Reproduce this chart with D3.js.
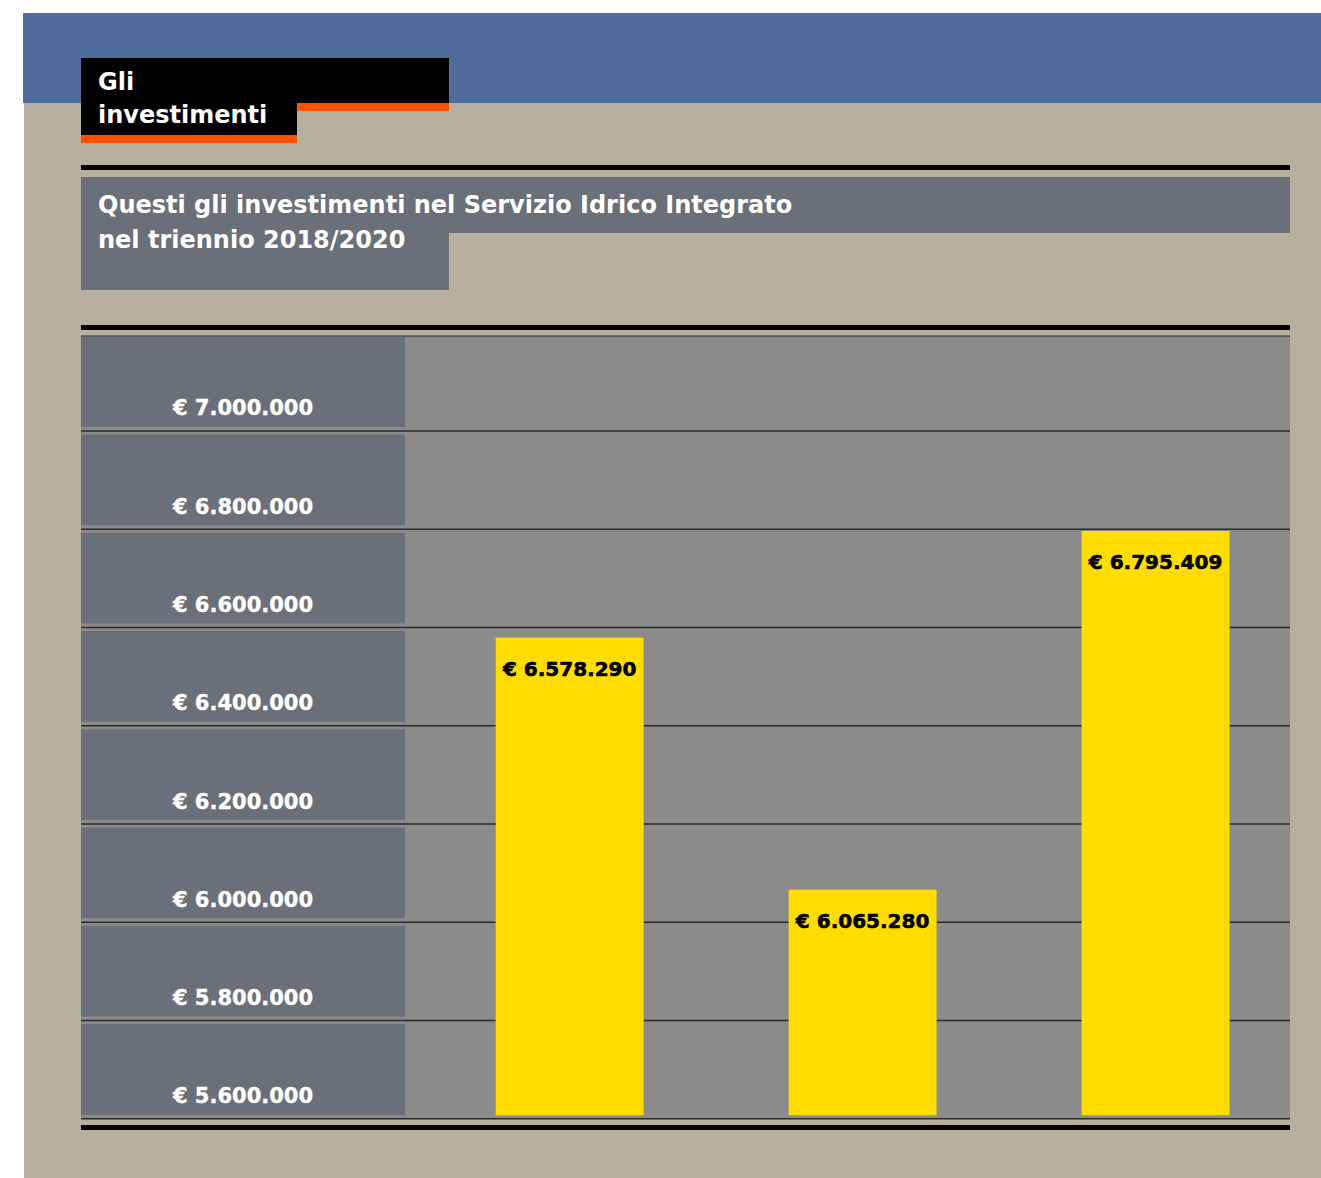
<!DOCTYPE html>
<html>
<head>
<meta charset="utf-8">
<script src="https://cdn.jsdelivr.net/npm/d3@7"></script>
<style>
  html, body { margin: 0; padding: 0; background: #ffffff; }
  svg { display: block; }
</style>
</head>
<body>
<svg id="chart" width="1321" height="1178"></svg>
<script>
// Annual investments in the integrated water service, 2018–2020
const years = ['2018', '2019', '2020'];
const investments = [6578290, 6065280, 6795409];
const tickValues = [5600000, 5800000, 6000000, 6200000, 6400000, 6600000, 6800000, 7000000];
const yDomain = [5600000, 7200000];
const titleLines = ['Gli', 'investimenti'];
const subtitleLines = ['Questi gli investimenti nel Servizio Idrico Integrato', 'nel triennio 2018/2020'];

const W = 1321, H = 1178;
const C = {
  blue: '#4f6c9d',
  beige: '#b7b09f',
  slate: '#6a707a',
  plot: '#8b8b89',
  grid: '#2b2b2b',
  yellow: '#ffdd00',
  orange: '#ff5200',
  black: '#000000',
  white: '#ffffff'
};
const L = 81, R = 1290, AXIS_R = 405, PLOT_TOP = 336;
const HEAD_FONT = '"DejaVu Sans", "Liberation Sans", sans-serif';

const it = d3.formatLocale({ decimal: ',', thousands: '.', grouping: [3], currency: ['€ ', ''] });
const euro = it.format('$,.0f');

const svg = d3.select('#chart');

// background panels
svg.append('rect').attr('x', 23).attr('y', 13).attr('width', W - 23).attr('height', 90).attr('fill', C.blue);
svg.append('rect').attr('x', 24).attr('y', 103).attr('width', W - 24).attr('height', H - 103).attr('fill', C.beige);

// title block
svg.append('rect').attr('x', L).attr('y', 58).attr('width', 368).attr('height', 45).attr('fill', C.black);
svg.append('rect').attr('x', L).attr('y', 103).attr('width', 216).attr('height', 32).attr('fill', C.black);
svg.append('rect').attr('x', L).attr('y', 135).attr('width', 216).attr('height', 8).attr('fill', C.orange);
svg.append('rect').attr('x', 297).attr('y', 103).attr('width', 152).attr('height', 8).attr('fill', C.orange);
svg.append('g').selectAll('text').data(titleLines).join('text')
  .attr('x', 98).attr('y', (d, i) => 90 + i * 33)
  .attr('fill', C.white)
  .attr('font-family', HEAD_FONT)
  .attr('font-weight', 'bold').attr('font-size', 24)
  .text(d => d);

// subtitle block
svg.append('rect').attr('x', L).attr('y', 165).attr('width', R - L).attr('height', 5).attr('fill', C.black);
svg.append('rect').attr('x', L).attr('y', 177).attr('width', R - L).attr('height', 56).attr('fill', C.slate);
svg.append('rect').attr('x', L).attr('y', 233).attr('width', 368).attr('height', 57).attr('fill', C.slate);
svg.append('g').selectAll('text').data(subtitleLines).join('text')
  .attr('x', 98).attr('y', (d, i) => 213 + i * 35)
  .attr('fill', C.white)
  .attr('font-family', HEAD_FONT)
  .attr('font-weight', 'bold').attr('font-size', 24)
  .text(d => d);

// chart frame
svg.append('rect').attr('x', L).attr('y', 325).attr('width', R - L).attr('height', 5).attr('fill', C.black);

const y = d3.scaleLinear().domain(yDomain).range([1118.3, 332.2]);
const x = d3.scaleBand().domain(years).range([AXIS_R, R])
  .paddingInner(0.495).paddingOuter(0.258).align(0.6);

const plotBottom = y(yDomain[0]);
svg.append('rect').attr('x', L).attr('y', PLOT_TOP).attr('width', R - L)
  .attr('height', plotBottom - PLOT_TOP).attr('fill', C.plot);
svg.append('line').attr('x1', L).attr('x2', R).attr('y1', PLOT_TOP).attr('y2', PLOT_TOP)
  .attr('stroke', C.grid).attr('stroke-width', 1.2);

// value band on the left: one cell per tick interval
const step = tickValues[1] - tickValues[0];
svg.append('g').selectAll('rect').data(tickValues).join('rect')
  .attr('x', L).attr('width', AXIS_R - L)
  .attr('y', d => Math.max(y(d + step) + 4, PLOT_TOP + 1))
  .attr('height', d => (y(d) - 3.5) - Math.max(y(d + step) + 4, PLOT_TOP + 1))
  .attr('fill', C.slate);

// gridlines
const grid = svg.append('g').attr('transform', `translate(${L},0)`)
  .call(d3.axisRight(y).tickValues(tickValues).tickSize(R - L).tickFormat(''));
grid.select('.domain').remove();
grid.selectAll('.tick line').attr('stroke', C.grid).attr('stroke-width', 1.6);

// tick labels
svg.append('g').selectAll('text').data(tickValues).join('text')
  .attr('x', (L + AXIS_R) / 2).attr('y', d => y(d) - 15)
  .attr('text-anchor', 'middle')
  .attr('fill', C.white)
  .attr('stroke', C.white).attr('stroke-width', 0.4)
  .attr('font-family', '"DejaVu Sans", sans-serif')
  .attr('font-weight', 'bold').attr('font-size', 21)
  .text(d => euro(d));

// bars
const bars = years.map((k, i) => ({ year: k, value: investments[i] }));
svg.append('g').selectAll('rect').data(bars).join('rect')
  .attr('x', d => x(d.year)).attr('width', x.bandwidth())
  .attr('y', d => y(d.value))
  .attr('height', d => plotBottom - 3 - y(d.value))
  .attr('fill', C.yellow);

svg.append('g').selectAll('text').data(bars).join('text')
  .attr('x', d => x(d.year) + x.bandwidth() / 2)
  .attr('y', d => y(d.value) + 38)
  .attr('text-anchor', 'middle')
  .attr('fill', C.black)
  .attr('stroke', C.black).attr('stroke-width', 0.6)
  .attr('font-family', '"DejaVu Sans", sans-serif')
  .attr('font-weight', 'bold').attr('font-size', 20)
  .text(d => euro(d.value));

// closing rule
svg.append('rect').attr('x', L).attr('y', 1125).attr('width', R - L).attr('height', 5).attr('fill', C.black);
</script>
</body>
</html>
